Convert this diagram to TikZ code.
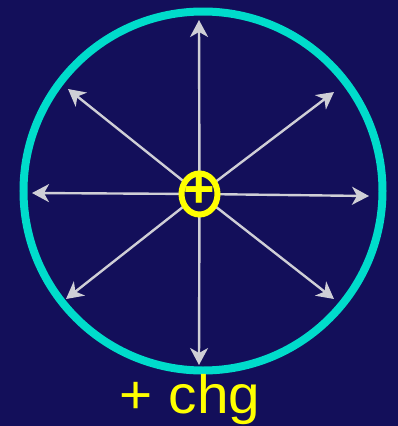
\documentclass[tikz,border=0pt]{standalone}
\usepackage{fontspec}
\setmainfont{Liberation Sans}
\usetikzlibrary{arrows.meta,shapes.geometric}
\definecolor{bgnavy}{HTML}{130F5A}
\definecolor{ringcyan}{HTML}{00DCCB}
\definecolor{chgyellow}{HTML}{FFFF00}
\definecolor{fieldgray}{HTML}{CFCFD6}
\begin{document}
\begin{tikzpicture}[x=1pt,y=-1pt,>={Stealth[length=17pt,width=18pt,inset=5pt]}]
\tikzstyle{field}=[->,draw=fieldgray,line width=2.4pt]
\tikzstyle{charge}=[ellipse,draw=chgyellow,fill=bgnavy,line width=6pt,minimum width=36pt,minimum height=41pt,inner sep=0pt]
\tikzstyle{sign}=[text=chgyellow,inner sep=0pt]
% background and gaussian surface
\fill[bgnavy] (0,0) rectangle (398,426);
\useasboundingbox (0,0) rectangle (398,426);
\draw[ringcyan,line width=8pt] (203,191) circle[radius=179.5];
% field lines
\coordinate (o) at (199.5,194);
\coordinate (n) at (199,20);
\coordinate (ne) at (334,92);
\coordinate (e) at (369,196);
\coordinate (se) at (334,299);
\coordinate (s) at (199,365);
\coordinate (sw) at (66,299);
\coordinate (w) at (32,193);
\coordinate (nw) at (68,89);
\foreach \tip in {n,ne,e,se,s,sw,w,nw}
  \draw[field] (o) -- (\tip);
% point charge
\node[charge] (q) at (o) {};
\node[sign,font=\fontsize{54}{60}\selectfont\bfseries] (qsign) at (199,192) {+};
\node[sign,font=\fontsize{54}{60}\selectfont,anchor=base,xscale=1.05] (lbl) at (190,413) {+ chg};
\end{tikzpicture}
\end{document}
